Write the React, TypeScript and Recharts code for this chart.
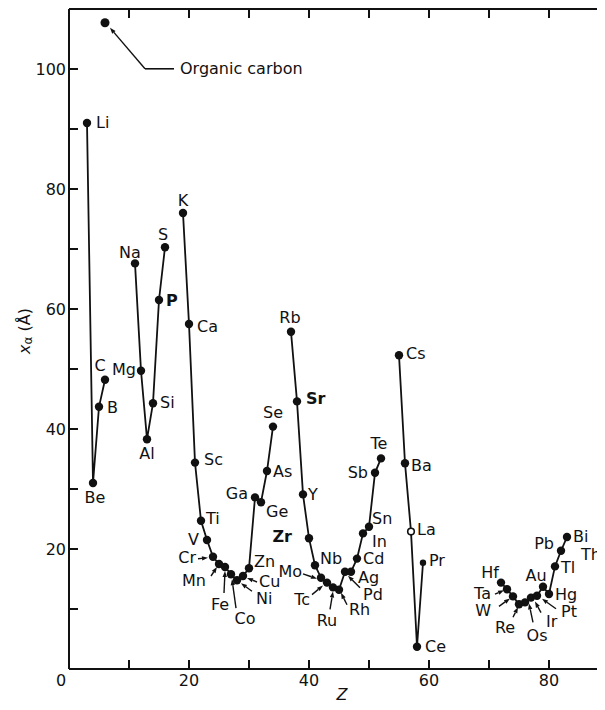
import React from 'react';
import { ComposedChart, Scatter, XAxis, YAxis } from 'recharts';

// ---- data (Z, x_alpha in Å) ----
const p2Symbols = ['Li', 'Be', 'B', 'C'];
const p2Z = [3, 4, 5, 6];
const p2Values = [91.0, 31.0, 43.7, 48.2];

const p3Symbols = ['Na', 'Mg', 'Al', 'Si', 'P', 'S'];
const p3Z = [11, 12, 13, 14, 15, 16];
const p3Values = [67.6, 49.7, 38.3, 44.3, 61.5, 70.3];

const p4Symbols = ['K', 'Ca', 'Sc', 'Ti', 'V', 'Cr', 'Mn', 'Fe', 'Co', 'Ni', 'Cu', 'Zn', 'Ga', 'Ge', 'As', 'Se'];
const p4Z = [19, 20, 21, 22, 23, 24, 25, 26, 27, 28, 29, 30, 31, 32, 33, 34];
const p4Values = [76.0, 57.5, 34.4, 24.7, 21.5, 18.7, 17.5, 17.0, 15.8, 14.8, 15.5, 16.8, 28.6, 27.8, 33.0, 40.4];

const p5Symbols = ['Rb', 'Sr', 'Y', 'Zr', 'Nb', 'Mo', 'Tc', 'Ru', 'Rh', 'Pd', 'Ag', 'Cd', 'In', 'Sn', 'Sb', 'Te'];
const p5Z = [37, 38, 39, 40, 41, 42, 43, 44, 45, 46, 47, 48, 49, 50, 51, 52];
const p5Values = [56.2, 44.6, 29.1, 21.8, 17.3, 15.2, 14.4, 13.6, 13.2, 16.2, 16.2, 18.4, 22.6, 23.7, 32.7, 35.1];

const p6aSymbols = ['Cs', 'Ba', 'La', 'Ce', 'Pr'];
const p6aZ = [55, 56, 57, 58, 59];
const p6aValues = [52.3, 34.3, 22.9, 3.7, 17.7];

const p6bSymbols = ['Hf', 'Ta', 'W', 'Re', 'Os', 'Ir', 'Pt', 'Au', 'Hg', 'Tl', 'Pb', 'Bi'];
const p6bZ = [72, 73, 74, 75, 76, 77, 78, 79, 80, 81, 82, 83];
const p6bValues = [14.4, 13.3, 12.1, 10.8, 11.1, 11.9, 12.2, 13.7, 12.5, 17.1, 19.7, 22.0];

const thSymbols = ['Th'];
const thZ = [90];
const thValues = [19.5];

const organicSymbols = ['Organic carbon'];
const organicZ = [6];
const organicValues = [107.7];

const X_MIN = 0;
const X_MAX = 90;
const Y_MIN = 0;
const Y_MAX = 110;
const xTicks = [0, 10, 20, 30, 40, 50, 60, 70, 80, 90];
const xTickLabels = [0, 20, 40, 60, 80];
const yTicks = [0, 10, 20, 30, 40, 50, 60, 70, 80, 90, 100];
const yTickLabels = [20, 40, 60, 80, 100];

type Pt = { el: string; z: number; x: number };
const build = (s: string[], z: number[], v: number[]): Pt[] => s.map((el, i) => ({ el, z: z[i], x: v[i] }));

const series = [
  build(p2Symbols, p2Z, p2Values),
  build(p3Symbols, p3Z, p3Values),
  build(p4Symbols, p4Z, p4Values),
  build(p5Symbols, p5Z, p5Values),
  build(p6aSymbols, p6aZ, p6aValues),
  build(p6bSymbols, p6bZ, p6bValues),
];
const thData = build(thSymbols, thZ, thValues);
const organicData = build(organicSymbols, organicZ, organicValues);

// inward tick marks on all four sides, placed through the chart's own scales
type TickPt = { z: number; x: number; side: 'b' | 't' | 'l' | 'r' };
const tickMarks: TickPt[] = [
  ...xTicks.filter((t) => t > X_MIN && t < X_MAX).map((t) => ({ z: t, x: Y_MIN, side: 'b' as const })),
  ...xTicks.filter((t) => t > X_MIN && t < X_MAX).map((t) => ({ z: t, x: Y_MAX, side: 't' as const })),
  ...yTicks.filter((t) => t > Y_MIN).map((t) => ({ z: X_MIN, x: t, side: 'l' as const })),
  ...yTicks.filter((t) => t > Y_MIN).map((t) => ({ z: X_MAX, x: t, side: 'r' as const })),
];

// ---- label layout (pixel offsets relative to each point) ----
type Lay = { dx: number; dy: number; a?: 'start' | 'middle' | 'end'; bold?: boolean; leader?: [number, number, number, number] };
const labelLayout: Record<string, Lay> = {
  Li: { dx: 9, dy: -1 },
  Be: { dx: 2, dy: 14, a: 'middle' },
  B: { dx: 8, dy: 1 },
  C: { dx: -5, dy: -14, a: 'middle' },
  Na: { dx: -5, dy: -11, a: 'middle' },
  Mg: { dx: -5, dy: -1, a: 'end' },
  Al: { dx: 0, dy: 14, a: 'middle' },
  Si: { dx: 7, dy: -1 },
  P: { dx: 7, dy: 0, bold: true },
  S: { dx: -2, dy: -13, a: 'middle' },
  K: { dx: 0, dy: -13, a: 'middle' },
  Ca: { dx: 8, dy: 2 },
  Sc: { dx: 9, dy: -3 },
  Ti: { dx: 5, dy: -2 },
  V: { dx: -8, dy: -1, a: 'end' },
  Cr: { dx: -17, dy: 1, a: 'end', leader: [-15, 2, -5, 1] },
  Mn: { dx: -13, dy: 16, a: 'end', leader: [-8, 12, -2, 3] },
  Fe: { dx: -5, dy: 37, a: 'middle', leader: [-1, 26, 0, 4] },
  Co: { dx: 14, dy: 44, a: 'middle', leader: [5, 34, 1, 5] },
  Ni: { dx: 19, dy: 18, leader: [15, 11, 4, 3] },
  Cu: { dx: 16, dy: 5, leader: [14, 6, 4, 2] },
  Zn: { dx: 5, dy: -7 },
  Ga: { dx: -7, dy: -4, a: 'end' },
  Ge: { dx: 5, dy: 9 },
  As: { dx: 6, dy: 0 },
  Se: { dx: 0, dy: -14, a: 'middle' },
  Rb: { dx: -1, dy: -14, a: 'middle' },
  Sr: { dx: 9, dy: -3, bold: true },
  Y: { dx: 5, dy: 0 },
  Zr: { dx: -17, dy: -2, a: 'end', bold: true },
  Nb: { dx: 5, dy: -7 },
  Mo: { dx: -19, dy: -6, a: 'end', leader: [-18, -4, -4, 1] },
  Tc: { dx: -17, dy: 17, a: 'end', leader: [-15, 12, -4, 3] },
  Ru: { dx: -6, dy: 33, a: 'middle', leader: [-3, 22, 0, 4] },
  Rh: { dx: 10, dy: 20, leader: [8, 15, 2, 3] },
  Pd: { dx: 18, dy: 23, leader: [15, 16, 3, 4] },
  Ag: { dx: 7, dy: 6 },
  Cd: { dx: 6, dy: 0 },
  In: { dx: 9, dy: 8 },
  Sn: { dx: 3, dy: -8 },
  Sb: { dx: -7, dy: 0, a: 'end' },
  Te: { dx: -2, dy: -15, a: 'middle' },
  Cs: { dx: 7, dy: -2 },
  Ba: { dx: 6, dy: 2 },
  La: { dx: 6, dy: -2 },
  Ce: { dx: 8, dy: 0 },
  Pr: { dx: 6, dy: -2 },
  Hf: { dx: -2, dy: -10, a: 'end' },
  Ta: { dx: -16, dy: 4, a: 'end', leader: [-12, 5, -3, 1] },
  W: { dx: -22, dy: 14, a: 'end', leader: [-14, 10, -3, 2] },
  Re: { dx: -14, dy: 23, a: 'middle', leader: [-6, 13, -1, 3] },
  Os: { dx: 12, dy: 33, a: 'middle', leader: [8, 20, 4, 1] },
  Ir: { dx: 15, dy: 24, leader: [10, 15, 4, 4] },
  Pt: { dx: 24, dy: 16, leader: [19, 13, 5, 3] },
  Au: { dx: -7, dy: -11, a: 'middle' },
  Hg: { dx: 6, dy: 0 },
  Tl: { dx: 6, dy: 1 },
  Pb: { dx: -7, dy: -7, a: 'end' },
  Bi: { dx: 6, dy: -1 },
  Th: { dx: -8, dy: 2, a: 'end' },
};

const INK = '#111';
const FONT = '"DejaVu Sans", sans-serif';
const TICK = 9;
const PLOT_B = 661;
const PLOT_L = 61;

const Arrow = ({ x1, y1, x2, y2 }: { x1: number; y1: number; x2: number; y2: number }) => {
  const ang = Math.atan2(y2 - y1, x2 - x1);
  const len = 6;
  const hw = 2.2;
  const bx = x2 - len * Math.cos(ang);
  const by = y2 - len * Math.sin(ang);
  const px = -Math.sin(ang) * hw;
  const py = Math.cos(ang) * hw;
  return (
    <g>
      <line x1={x1} y1={y1} x2={bx} y2={by} stroke={INK} strokeWidth={1.4} />
      <polygon points={`${x2},${y2} ${bx + px},${by + py} ${bx - px},${by - py}`} fill={INK} />
    </g>
  );
};

const PointShape = (props: any) => {
  const { cx, cy } = props;
  if (cx == null || cy == null) return null;
  const el: string = props.payload?.el ?? props.el;
  const L = labelLayout[el] || { dx: 6, dy: 0 };
  let circle;
  if (el === 'La') circle = <circle cx={cx} cy={cy} r={3.3} fill="#fff" stroke={INK} strokeWidth={1.6} />;
  else if (el === 'Pr') circle = <circle cx={cx} cy={cy} r={3.2} fill={INK} />;
  else circle = <circle cx={cx} cy={cy} r={4.2} fill={INK} />;
  return (
    <g>
      {L.leader && <Arrow x1={cx + L.leader[0]} y1={cy + L.leader[1]} x2={cx + L.leader[2]} y2={cy + L.leader[3]} />}
      {circle}
      <text
        x={cx + L.dx}
        y={cy + L.dy}
        textAnchor={L.a ?? 'start'}
        dominantBaseline="central"
        fontSize={16}
        fontFamily={FONT}
        fontWeight={L.bold ? 'bold' : 'normal'}
        fill={INK}
      >
        {el}
      </text>
    </g>
  );
};

const OrganicShape = (props: any) => {
  const { cx, cy } = props;
  if (cx == null || cy == null) return null;
  const el: string = props.payload?.el ?? props.el;
  return (
    <g>
      <circle cx={cx} cy={cy} r={4.5} fill={INK} />
      <Arrow x1={cx + 40} y1={cy + 46} x2={cx + 5} y2={cy + 5} />
      <line x1={cx + 40} y1={cy + 46} x2={cx + 69} y2={cy + 46} stroke={INK} strokeWidth={1.6} />
      <text x={cx + 75} y={cy + 46} dominantBaseline="central" fontSize={16} fontFamily={FONT} fill={INK}>
        {el}
      </text>
    </g>
  );
};

const TickMarkShape = (props: any) => {
  const { cx, cy } = props;
  if (cx == null || cy == null) return null;
  const side = props.payload?.side ?? props.side;
  let d = { x2: cx, y2: cy };
  if (side === 'b') d = { x2: cx, y2: cy - TICK };
  else if (side === 't') d = { x2: cx, y2: cy + TICK };
  else if (side === 'l') d = { x2: cx + TICK, y2: cy };
  else if (side === 'r') d = { x2: cx - TICK, y2: cy };
  return <line x1={cx} y1={cy} x2={d.x2} y2={d.y2} stroke={INK} strokeWidth={2} />;
};

const BottomTick = (props: any) => {
  const { x, payload } = props;
  const v = Number(payload?.value);
  if (!xTickLabels.includes(v)) return <g />;
  return (
    <text x={x + (v === 0 ? -8 : 0)} y={PLOT_B + 17} textAnchor="middle" fontSize={16} fontFamily={FONT} fill={INK}>
      {v}
    </text>
  );
};

const LeftTick = (props: any) => {
  const { y, payload } = props;
  const v = Number(payload?.value);
  if (!yTickLabels.includes(v)) return <g />;
  return (
    <text x={PLOT_L - 3} y={y} textAnchor="end" dominantBaseline="central" fontSize={16} fontFamily={FONT} fill={INK}>
      {v}
    </text>
  );
};

const EmptyTick = () => <g />;

const axisLine = { stroke: INK, strokeWidth: 2 };

export default function App() {
  return (
    <div style={{ width: 597, height: 702, overflow: 'hidden', fontFamily: FONT }}>
      <ComposedChart width={620} height={702} margin={{ top: 0, right: 0, bottom: 0, left: 0 }}>
        <XAxis
          xAxisId="b"
          type="number"
          dataKey="z"
          domain={[X_MIN, X_MAX]}
          ticks={xTicks}
          orientation="bottom"
          height={41}
          axisLine={axisLine}
          tickLine={false}
          tick={<BottomTick />}
          interval={0}
        />
        <XAxis
          xAxisId="t"
          type="number"
          dataKey="z"
          domain={[X_MIN, X_MAX]}
          ticks={xTicks}
          orientation="top"
          height={1}
          axisLine={axisLine}
          tickLine={false}
          tick={<EmptyTick />}
          interval={0}
        />
        <YAxis
          yAxisId="l"
          type="number"
          dataKey="x"
          domain={[Y_MIN, Y_MAX]}
          ticks={yTicks}
          orientation="left"
          width={61}
          axisLine={axisLine}
          tickLine={false}
          tick={<LeftTick />}
          interval={0}
        />
        <YAxis
          yAxisId="r"
          type="number"
          dataKey="x"
          domain={[Y_MIN, Y_MAX]}
          ticks={yTicks}
          orientation="right"
          width={19}
          axisLine={axisLine}
          tickLine={false}
          tick={<EmptyTick />}
          interval={0}
        />
        <Scatter data={tickMarks} xAxisId="b" yAxisId="l" dataKey="x" shape={<TickMarkShape />} isAnimationActive={false} />
        <Scatter data={tickMarks} xAxisId="t" yAxisId="r" dataKey="x" shape={<EmptyTick />} isAnimationActive={false} />
        {series.map((d, i) => (
          <Scatter
            key={i}
            data={d}
            xAxisId="b"
            yAxisId="l"
            dataKey="x"
            line={{ stroke: INK, strokeWidth: 1.8 }}
            lineType="joint"
            shape={<PointShape />}
            isAnimationActive={false}
          />
        ))}
        <Scatter data={thData} xAxisId="b" yAxisId="l" dataKey="x" shape={<PointShape />} isAnimationActive={false} />
        <Scatter data={organicData} xAxisId="b" yAxisId="l" dataKey="x" shape={<OrganicShape />} isAnimationActive={false} />
        <text x={334} y={692} textAnchor="middle" fontSize={16} fontStyle="italic" fontFamily={FONT} fill={INK}>
          Z
        </text>
        <text
          x={16}
          y={323}
          transform="rotate(-90 16 323)"
          textAnchor="middle"
          dominantBaseline="central"
          fontSize={16}
          fontFamily={FONT}
          fill={INK}
        >
          <tspan fontStyle="italic">x</tspan>
          <tspan fontSize={12} dy={4}>α</tspan>
          <tspan dy={-4}> (Å)</tspan>
        </text>
      </ComposedChart>
    </div>
  );
}
